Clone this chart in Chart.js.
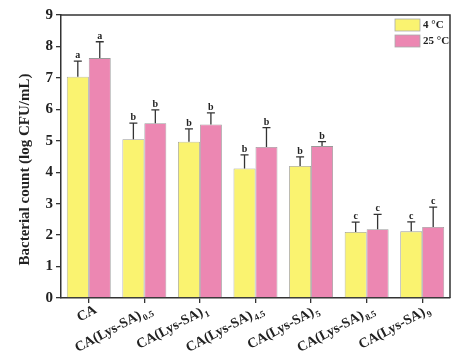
<!DOCTYPE html>
<html>
<head>
<meta charset="utf-8">
<script src="https://cdn.jsdelivr.net/npm/chart.js@4.4.0/dist/chart.umd.min.js"></script>
<style>
html,body{margin:0;padding:0;background:#fff;}
#wrap{width:465px;height:360px;position:relative;}
</style>
</head>
<body>
<div id="wrap"><canvas id="c" width="465" height="360"></canvas></div>
<script>
// ---- data ----
const categories = ["CA", "CA(Lys-SA)", "CA(Lys-SA)", "CA(Lys-SA)", "CA(Lys-SA)", "CA(Lys-SA)", "CA(Lys-SA)"];
const subscripts = ["", "0.5", "1", "4.5", "5", "8.5", "9"];
const seriesNames = ["4 \u00B0C", "25 \u00B0C"];
const values4C = [7.04, 5.05, 4.97, 4.12, 4.20, 2.10, 2.12];
const errors4C = [0.49, 0.51, 0.41, 0.43, 0.29, 0.31, 0.30];
const values25C = [7.63, 5.56, 5.52, 4.80, 4.83, 2.19, 2.26];
const errors25C = [0.52, 0.42, 0.37, 0.62, 0.14, 0.47, 0.63];
const letters4C = ["a", "b", "b", "b", "b", "c", "c"];
const letters25C = ["a", "b", "b", "b", "b", "c", "c"];
const yTicks = [0, 1, 2, 3, 4, 5, 6, 7, 8, 9];
const yTitle = "Bacterial count (log CFU/mL)";

const FONT = "'Liberation Serif', 'Times New Roman', serif";
const AXIS = "#333333";

function drawXLabels(chart) {
  const ctx = chart.ctx;
  const a = chart.chartArea;
  const xs = chart.scales.x;
  const ang = -28 * Math.PI / 180;
  const c = Math.cos(ang), s = Math.sin(ang);
  for (let i = 0; i < categories.length; i++) {
    const lab = categories[i];
    const sub = subscripts[i];
    const px = xs.getPixelForValue(i);
    ctx.save();
    ctx.setTransform(c, s, -s, c, px + 7, a.bottom + 11);
    ctx.fillStyle = "#222";
    ctx.textBaseline = "middle";
    ctx.textAlign = "right";
    let off = 0;
    if (sub) {
      ctx.font = "bold 9px " + FONT;
      ctx.fillText(sub, 0, 5);
      off = ctx.measureText(sub).width + 1;
    }
    ctx.font = "bold 14px " + FONT;
    ctx.fillText(lab, -off, 0);
    ctx.restore();
  }
}

function drawYTitle(chart) {
  const ctx = chart.ctx;
  const ys = chart.scales.y;
  ctx.save();
  ctx.setTransform(0, -1, 1, 0, 25, (ys.top + ys.bottom) / 2 + 13);
  ctx.fillStyle = "#222";
  ctx.font = "bold 15px " + FONT;
  ctx.textAlign = "center";
  ctx.textBaseline = "middle";
  ctx.fillText(yTitle, 0, 0);
  ctx.restore();
}

const errPlugin = {
  id: 'errs',
  afterDatasetsDraw(chart) {
    const ctx = chart.ctx;
    const y = chart.scales.y;
    const errs = [errors4C, errors25C];
    const lets = [letters4C, letters25C];
    chart.data.datasets.forEach((ds, di) => {
      const meta = chart.getDatasetMeta(di);
      meta.data.forEach((bar, i) => {
        const top = y.getPixelForValue(ds.data[i] + errs[di][i]);
        ctx.save();
        ctx.strokeStyle = AXIS;
        ctx.lineWidth = 1.3;
        ctx.beginPath();
        ctx.moveTo(bar.x, bar.y);
        ctx.lineTo(bar.x, top);
        ctx.moveTo(bar.x - 4, top);
        ctx.lineTo(bar.x + 4, top);
        ctx.stroke();
        ctx.fillStyle = "#222";
        ctx.font = "bold 10px " + FONT;
        ctx.textAlign = "center";
        ctx.textBaseline = "alphabetic";
        ctx.fillText(lets[di][i], bar.x, top - 3);
        ctx.restore();
      });
    });
  },
  afterDraw(chart) {
    const ctx = chart.ctx;
    const a = chart.chartArea;
    ctx.save();
    ctx.strokeStyle = AXIS;
    ctx.lineWidth = 1.5;
    ctx.beginPath();
    ctx.moveTo(a.left, a.top);
    ctx.lineTo(a.right, a.top);
    ctx.lineTo(a.right, a.bottom);
    ctx.stroke();
    ctx.restore();
    drawXLabels(chart);
    drawYTitle(chart);
    ctx.save();
    const colors = [chart.data.datasets[0].backgroundColor, chart.data.datasets[1].backgroundColor];
    ctx.font = "bold 11px " + FONT;
    ctx.textBaseline = "middle";
    ctx.textAlign = "left";
    seriesNames.forEach((n, k) => {
      const bx = a.right - 55, by = a.top + 4 + k * 16;
      ctx.fillStyle = colors[k];
      ctx.fillRect(bx, by, 25, 12);
      ctx.strokeStyle = "#aaa";
      ctx.lineWidth = 0.8;
      ctx.strokeRect(bx, by, 25, 12);
      ctx.fillStyle = "#222";
      ctx.fillText(n, bx + 28, by + 6.5);
    });
    ctx.restore();
  }
};

new Chart(document.getElementById('c'), {
  type: 'bar',
  data: {
    labels: categories.map((c, i) => c + subscripts[i]),
    datasets: [
      { label: seriesNames[0], data: values4C, backgroundColor: "#FAF370", borderColor: "#9a9a9a", borderWidth: 0.8 },
      { label: seriesNames[1], data: values25C, backgroundColor: "#EC87B2", borderColor: "#9a9a9a", borderWidth: 0.8 }
    ]
  },
  options: {
    responsive: false,
    animation: false,
    devicePixelRatio: 1,
    layout: { padding: { top: 15, right: 15, left: 0, bottom: 0 } },
    plugins: { legend: { display: false }, tooltip: { enabled: false } },
    datasets: { bar: { barPercentage: 1.0, categoryPercentage: 0.79 } },
    scales: {
      x: {
        grid: { display: true, drawOnChartArea: false, offset: false, tickLength: 5, color: AXIS, lineWidth: 1.3 },
        border: { display: true, color: AXIS, width: 1.5 },
        ticks: { display: false },
        afterFit(s) { s.height = 62; }
      },
      y: {
        min: 0, max: 9,
        afterBuildTicks(s) { s.ticks = yTicks.map(v => ({ value: v })); },
        grid: { display: true, drawOnChartArea: false, tickLength: 5, color: AXIS, lineWidth: 1.3 },
        border: { display: true, color: AXIS, width: 1.5 },
        ticks: { color: "#222", font: { family: FONT, size: 15, weight: 'bold' }, padding: 3 },
        title: { display: false },
        afterFit(s) { s.width = 61; }
      }
    }
  },
  plugins: [errPlugin]
});
</script>
</body>
</html>
